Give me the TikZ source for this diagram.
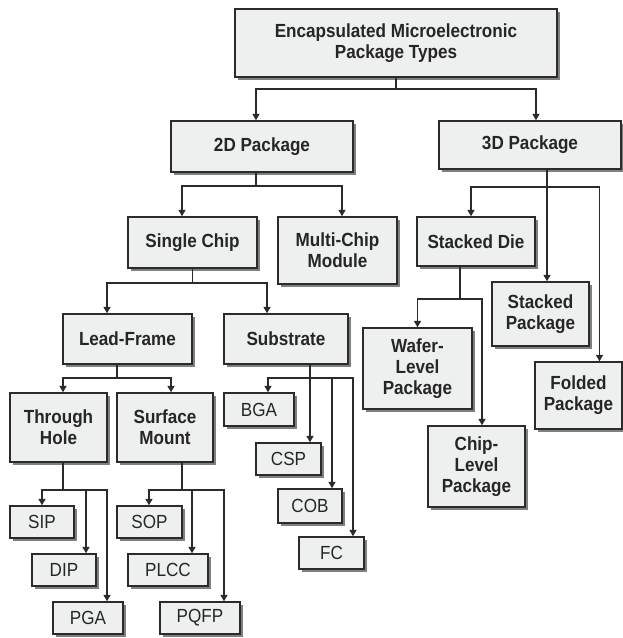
\documentclass[tikz,border=0pt]{standalone}
\usepackage{fontspec}
\setmainfont{Liberation Sans}[FakeStretch=0.9]
\usetikzlibrary{arrows.meta, shadows}
\definecolor{boxfill}{HTML}{EEEFEF}
\definecolor{boxline}{HTML}{2B2B2B}
\definecolor{shade}{HTML}{808080}
\tikzset{
  % package box
  pkg/.style={draw=boxline, line width=1.4pt, fill=boxfill, align=center, inner sep=0pt,
    text=black!85, font=\fontsize{19}{21}\selectfont\bfseries,
    drop shadow={shadow xshift=3pt, shadow yshift=-3pt, fill=shade, opacity=1}},
  % leaf box (regular weight)
  leaf/.style={pkg, font=\fontsize{19}{21}\selectfont},
  sz/.style 2 args={minimum width=#1pt, minimum height=#2pt},
  % connectors
  link/.style={line width=1.8pt, draw=boxline, -{Triangle[length=6.5pt, width=7pt]}},
}

\begin{document}
\begin{tikzpicture}[x=1pt, y=-1pt]
  \useasboundingbox (0,0) rectangle (623,638);
  % top levels
  \node[pkg, sz={322}{68}] (top) at (396,43) {Encapsulated Microelectronic\\Package Types};
  \node[pkg, sz={182}{51}] (d2) at (262,146.5) {2D Package};
  \node[pkg, sz={182}{48}] (d3) at (530,145) {3D Package};
  \node[pkg, sz={129}{51}] (single) at (192.5,242.5) {Single Chip};
  \node[pkg, sz={119}{67}] (multi) at (337.5,250.5) {Multi-Chip\\Module};
  \node[pkg, sz={118}{49}] (sdie) at (476,241.5) {Stacked Die};
  \node[pkg, sz={97}{64}] (spkg) at (540.5,314) {Stacked\\Package};
  \node[pkg, sz={87}{67}] (fold) at (578.5,395.5) {Folded\\Package};
  \node[pkg, sz={129}{50}] (lead) at (127.5,339) {Lead-Frame};
  \node[pkg, sz={124}{50}] (subs) at (286,339) {Substrate};
  \node[pkg, sz={109}{81}] (wafer) at (417.5,368.5) {Wafer-\\Level\\Package};
  \node[pkg, sz={97}{81}] (chipl) at (476.5,466.5) {Chip-\\Level\\Package};
  \node[pkg, sz={97}{69}] (thru) at (58.5,427.5) {Through\\Hole};
  \node[pkg, sz={96}{69}] (surf) at (165,427.5) {Surface\\Mount};
  % leaves
  \node[leaf, sz={70}{33}] (bga) at (259,409.5) {BGA};
  \node[leaf, sz={65}{32}] (csp) at (288.5,459) {CSP};
  \node[leaf, sz={64}{34}] (cob) at (310,506) {COB};
  \node[leaf, sz={65}{32}] (fc) at (331.5,553) {FC};
  \node[leaf, sz={64}{32}] (sip) at (42,522) {SIP};
  \node[leaf, sz={64}{32}] (dip) at (64,570) {DIP};
  \node[leaf, sz={70}{32}] (pga) at (88,618) {PGA};
  \node[leaf, sz={65}{32}] (sop) at (149.5,522) {SOP};
  \node[leaf, sz={80}{32}] (plcc) at (168,570) {PLCC};
  \node[leaf, sz={80}{32}] (pqfp) at (200,618) {PQFP};
  % connectors
  \foreach \c/\s in {d2/-6, d3/6}
    \draw[link] (top.south) -- ++(0,11) -| ([xshift=\s pt]\c.north);
  \foreach \c/\s in {single/-10.5, multi/4.5}
    \draw[link] ([xshift=-6pt]d2.south) -- ++(0,13) -| ([xshift=\s pt]\c.north);
  \foreach \c/\s in {sdie/-5, spkg/6.5, fold/21}
    \draw[link] ([xshift=17pt]d3.south) -- ++(0,17.5) -| ([xshift=\s pt]\c.north);
  \foreach \c/\s in {lead/-20.5, subs/-19}
    \draw[link] (single.south) -- ++(0,14) -| ([xshift=\s pt]\c.north);
  \foreach \c/\s in {wafer/0, chipl/5.5}
    \draw[link] ([xshift=-16pt]sdie.south) -- ++(0,32) -| ([xshift=\s pt]\c.north);
  \foreach \c/\s in {thru/4.5, surf/6}
    \draw[link] ([xshift=-10.5pt]lead.south) -- ++(0,13) -| ([xshift=\s pt]\c.north);
  \foreach \c/\s in {bga/9, csp/21.5, cob/22, fc/21.5}
    \draw[link] ([xshift=24pt]subs.south) -- ++(0,13) -| ([xshift=\s pt]\c.north);
  \foreach \c/\s in {sip/0, dip/22, pga/19}
    \draw[link] ([xshift=4.5pt]thru.south) -- ++(0,27) -| ([xshift=\s pt]\c.north);
  \foreach \c/\s in {sop/-0.5, plcc/24, pqfp/24}
    \draw[link] ([xshift=17pt]surf.south) -- ++(0,27) -| ([xshift=\s pt]\c.north);
\end{tikzpicture}
\end{document}
